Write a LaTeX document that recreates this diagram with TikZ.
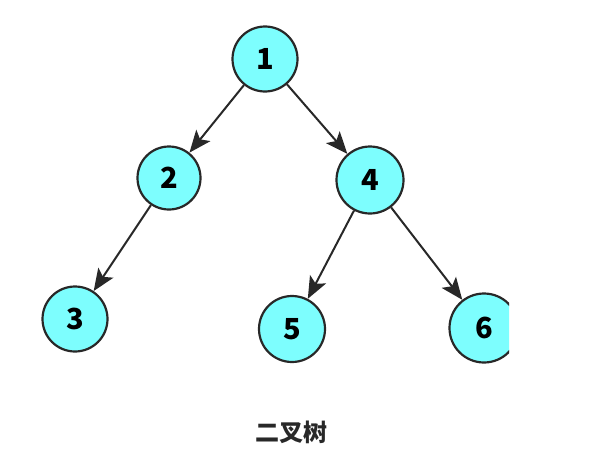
\documentclass[tikz,border=0pt]{standalone}
\usepackage{fontspec}
\setmainfont{Noto Sans CJK SC}
\usetikzlibrary{arrows.meta}

\definecolor{nodecyan}{RGB}{125,254,254}
\definecolor{edgegrey}{RGB}{40,40,40}

\tikzset{
  treenode/.style={circle,draw=edgegrey,line width=2.2pt,fill=nodecyan,
    minimum size=65pt,inner sep=0pt,font=\bfseries\fontsize{29}{29}\selectfont},
  treeedge/.style={-{Stealth[length=22pt,width=18pt,inset=5pt]},edgegrey,line width=2pt}
}

\begin{document}
\begin{tikzpicture}[x=1pt,y=-1pt]
  \useasboundingbox (0,0) rectangle (599,471);
  \begin{scope}
    \clip (0,0) rectangle (509,471);
    % nodes
    \node[treenode] (n1) at (265,59) {1};
    \node[treenode,minimum size=63pt] (n2) at (169,178) {2};
    \node[treenode,minimum size=67pt] (n4) at (370,180) {4};
    \node[treenode] (n3) at (75,319) {3};
    \node[treenode,minimum size=66pt] (n5) at (292,329) {5};
    \node[treenode,minimum size=69pt] (n6) at (484,328) {6};
    % edges
    \draw[treeedge] (n1) -- (n2);
    \draw[treeedge] (n1) -- (n4);
    \draw[treeedge] (n2) -- (n3);
    \draw[treeedge] (n4) -- (n5);
    \draw[treeedge] (n4) -- (n6);
  \end{scope}
  \node[font=\bfseries\fontsize{24}{24}\selectfont,text=edgegrey] (cap) at (291,432) {二叉树};
\end{tikzpicture}
\end{document}
